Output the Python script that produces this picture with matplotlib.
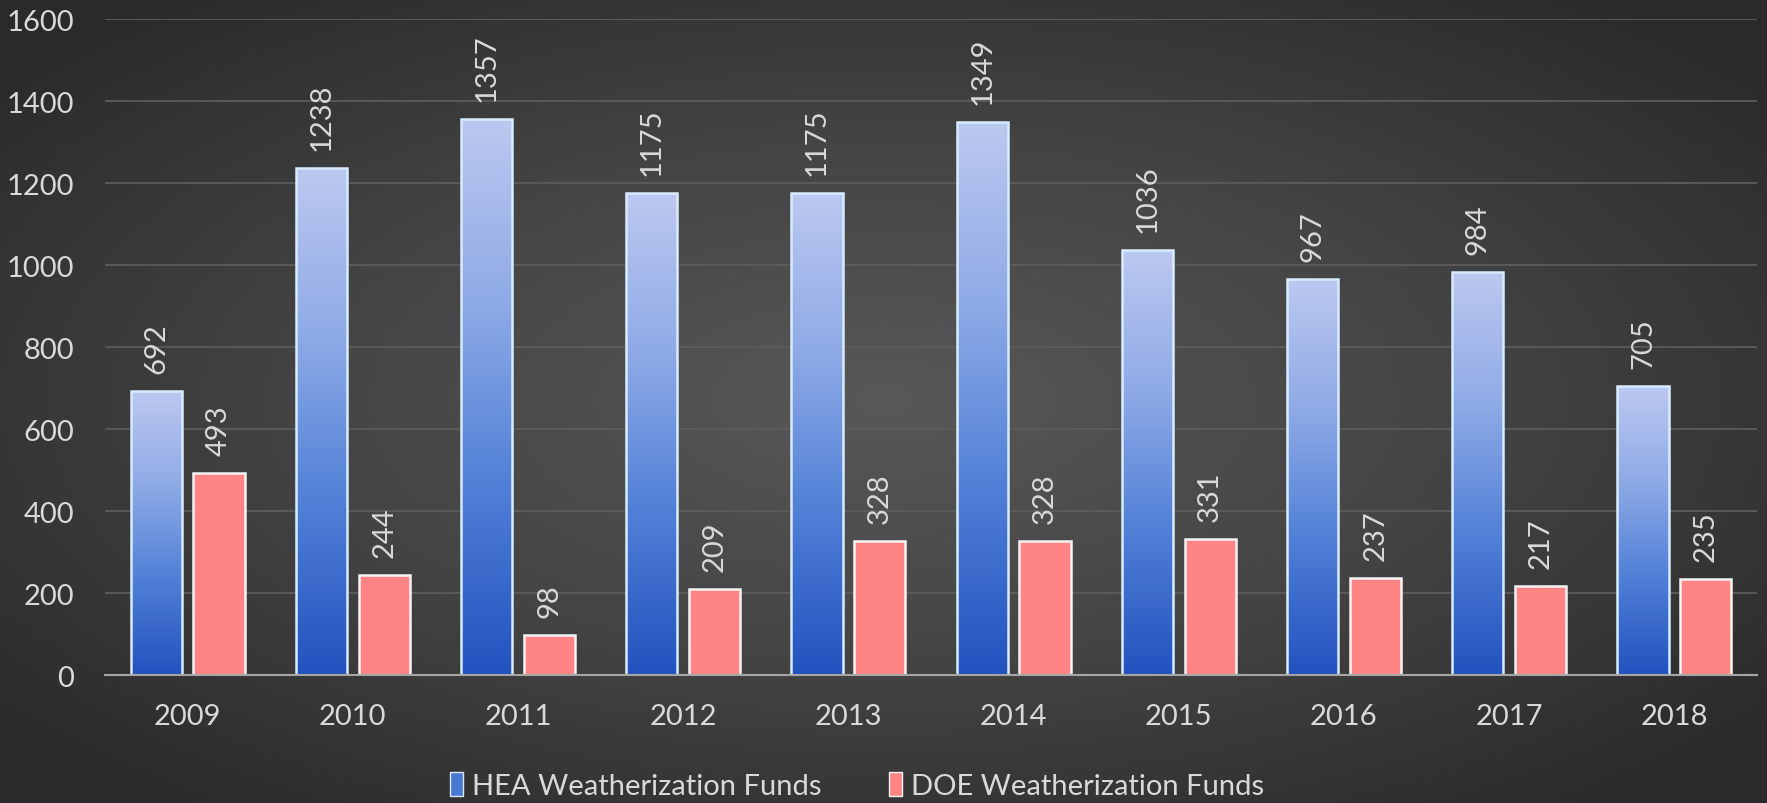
import numpy as np
import matplotlib.pyplot as plt
from matplotlib.colors import LinearSegmentedColormap
from matplotlib.patches import Patch

# Data
years = ["2009", "2010", "2011", "2012", "2013", "2014", "2015", "2016", "2017", "2018"]
hea_funds = [692, 1238, 1357, 1175, 1175, 1349, 1036, 967, 984, 705]
doe_funds = [493, 244, 98, 209, 328, 328, 331, 237, 217, 235]

plt.rcParams['font.family'] = ['Lato', 'DejaVu Sans']
text_color = '#d9d9d9'

fig = plt.figure(figsize=(17.67, 8.04), dpi=100)

# radial gradient background
bg = fig.add_axes([0, 0, 1, 1], zorder=-10)
yy, xx = np.mgrid[-1:1:400j, -1:1:800j]
r = np.sqrt(xx ** 2 + yy ** 2)
bg_cmap = LinearSegmentedColormap.from_list("bg", ["#585858", "#444444", "#2a2a2a"])
bg.imshow(r, cmap=bg_cmap, aspect='auto', extent=[0, 1, 0, 1], vmin=0, vmax=1.3)
bg.axis('off')

ax = fig.add_axes([0.0594, 0.1592, 0.9349, 0.8156])
ax.set_facecolor('none')

x = np.arange(len(years))
bar_width = 0.31
offset = 0.19

blue_cmap = LinearSegmentedColormap.from_list("blue", ["#2352bf", "#4f7fd6", "#8eaae6", "#bcc8f0"])

hea_bars = ax.bar(x - offset, hea_funds, width=bar_width, color='none',
                  edgecolor='#d8ecff', linewidth=1.8, zorder=3)
doe_bars = ax.bar(x + offset, doe_funds, width=bar_width, color='#ff8585',
                  edgecolor='#f4f4f4', linewidth=1.8, zorder=3)

# vertical gradient inside each blue bar
grad = np.linspace(0, 1, 256).reshape(-1, 1)
for bar in hea_bars:
    x0 = bar.get_x()
    h = bar.get_height()
    img = ax.imshow(grad, extent=[x0, x0 + bar.get_width(), 0, h], origin='lower',
                    cmap=blue_cmap, aspect='auto', zorder=2)
    img.set_clip_path(bar)

# value labels
for bars, vals in [(hea_bars, hea_funds), (doe_bars, doe_funds)]:
    for bar, v in zip(bars, vals):
        ax.annotate(str(v), (bar.get_x() + bar.get_width() / 2, v),
                    xytext=(0, 13), textcoords='offset points',
                    rotation=90, ha='center', va='bottom',
                    fontsize=21, color=text_color)

ax.set_xlim(-0.5, len(years) - 0.5)
ax.set_ylim(0, 1600)
ax.set_yticks(range(0, 1601, 200))
ax.set_xticks(x)
ax.set_xticklabels(years)
ax.tick_params(axis='both', length=0, labelsize=21, labelcolor=text_color)
ax.tick_params(axis='y', pad=22)
ax.tick_params(axis='x', pad=20)

ax.yaxis.grid(True, color='#5c5c5c', linewidth=1.3, zorder=0)
ax.set_axisbelow(True)
for side in ['top', 'right', 'left']:
    ax.spines[side].set_visible(False)
ax.spines['bottom'].set_color('#a6a6a6')
ax.spines['bottom'].set_linewidth(1.5)
ax.spines['bottom'].set_zorder(4)

handles = [Patch(facecolor='#4a78d0', edgecolor='#d8ecff', label='HEA Weatherization Funds'),
           Patch(facecolor='#ff8585', edgecolor='#f4f4f4', label='DOE Weatherization Funds')]
leg = fig.legend(handles=handles, loc='center', bbox_to_anchor=(0.485, 0.022), ncol=2,
                 frameon=False, fontsize=21, handlelength=0.45, handleheight=0.9,
                 handletextpad=0.3, columnspacing=2.3)
for t in leg.get_texts():
    t.set_color(text_color)

fig.savefig('out.png', dpi=100)
